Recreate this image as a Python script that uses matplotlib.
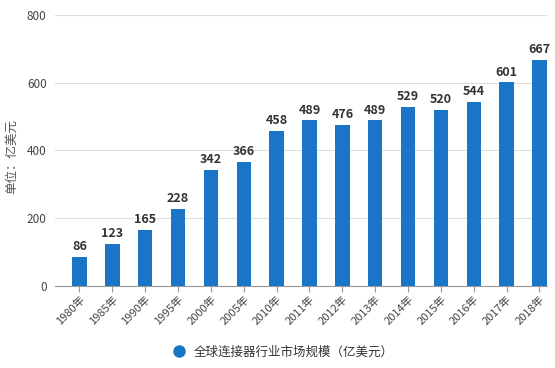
import matplotlib
matplotlib.use("Agg")
import matplotlib.pyplot as plt
from matplotlib.lines import Line2D

plt.rcParams['font.family'] = ['Noto Sans CJK SC', 'DejaVu Sans']

categories = ["1980年", "1985年", "1990年", "1995年", "2000年", "2005年", "2010年",
              "2011年", "2012年", "2013年", "2014年", "2015年", "2016年", "2017年", "2018年"]
values = [86, 123, 165, 228, 342, 366, 458, 489, 476, 489, 529, 520, 544, 601, 667]
yticks = [0, 200, 400, 600, 800]
series_name = "全球连接器行业市场规模（亿美元）"
ylabel = "单位：亿美元"

W, H = 555, 368
fig = plt.figure(figsize=(W / 100, H / 100), dpi=100)
ax = fig.add_axes([55 / W, (H - 285.7) / H, (547 - 55) / W, (285.7 - 15) / H])

bar_color = "#1a75c6"
x = list(range(len(categories)))
ax.bar(x, values, width=0.44, color=bar_color, zorder=3)
for xi, v in zip(x, values):
    ax.text(xi, v + 11, str(v), ha="center", va="bottom", fontsize=9,
            fontweight="bold", color="#333333", zorder=4)

ax.set_xlim(-0.745, 14.23)
ax.set_ylim(0, 800)
ax.set_yticks(yticks)
ax.set_yticklabels([str(t) for t in yticks], fontsize=8.5, color="#444444")
ax.tick_params(axis="y", length=0, pad=6)
ax.set_xticks(x)
ax.set_xticklabels(categories, rotation=45, ha="right", rotation_mode="anchor",
                   fontsize=8, color="#444444")
ax.tick_params(axis="x", length=4, color="#999999", pad=2)

ax.grid(axis="y", color="#dddddd", linewidth=0.8, zorder=0)
for s in ["top", "right", "left"]:
    ax.spines[s].set_visible(False)
ax.spines["bottom"].set_color("#999999")
ax.spines["bottom"].set_linewidth(0.8)

fig.text(12 / W, 1 - 156 / H, ylabel, rotation=90, ha="center", va="center",
         fontsize=9, color="#555555")

handle = Line2D([0], [0], marker="o", color="w", markerfacecolor=bar_color,
                markersize=10, linestyle="None")
fig.legend([handle], [series_name], loc="center", bbox_to_anchor=(0.505, 1 - 352 / H),
           frameon=False, fontsize=9, handletextpad=0.2, labelcolor="#333333")

fig.savefig("out.png", dpi=100)
